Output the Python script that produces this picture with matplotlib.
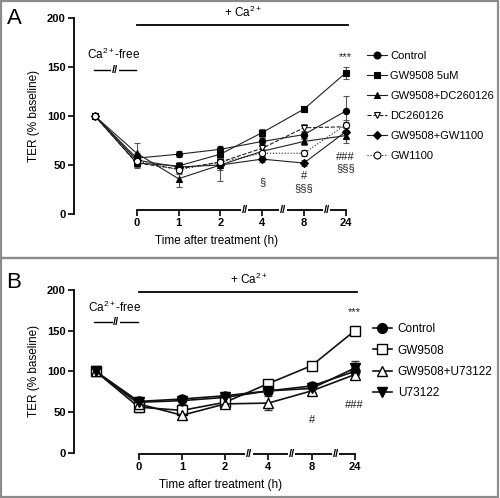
import numpy as np
import matplotlib
matplotlib.use('Agg')
import matplotlib.pyplot as plt
from matplotlib.patches import Rectangle
from matplotlib.lines import Line2D

plt.rcParams['font.family'] = ['Liberation Sans', 'DejaVu Sans']
plt.rcParams['mathtext.fontset'] = 'custom'
plt.rcParams['mathtext.rm'] = 'Liberation Sans'
plt.rcParams['mathtext.it'] = 'Liberation Sans'

# x categories: baseline, then time points (h)
xpos = [-1, 0, 1, 2, 3, 4, 5]
time_labels = ['0', '1', '2', '4', '8', '24']

# panel A
a_names = ['Control', 'GW9508 5uM', 'GW9508+DC260126', 'DC260126', 'GW9508+GW1100', 'GW1100']
a_vals = [
    [100, 57, 61, 66, 74, 81, 105],
    [100, 52, 49, 61, 83, 107, 144],
    [100, 62, 36, 50, 64, 74, 80],
    [100, 52, 46, 53, 67, 88, 89],
    [100, 55, 48, 50, 56, 52, 84],
    [100, 54, 45, 53, 62, 62, 91],
]
a_err = [
    [2, 5, 3, 3, 4, 4, 15],
    [2, 4, 4, 4, 4, 3, 6],
    [2, 10, 8, 16, 5, 4, 8],
    [2, 5, 4, 4, 4, 4, 5],
    [2, 6, 4, 5, 3, 3, 6],
    [2, 5, 4, 4, 4, 3, 5],
]
a_marker = ['o', 's', '^', 'v', 'D', 'o']
a_fill = ['k', 'k', 'k', 'white', 'k', 'white']
a_ls = ['-', '-', '-', '--', '-', ':']
a_ann = [('***', 5, 160), ('###', 5, 58), ('§§§', 5, 47), ('§', 3, 32), ('#', 4, 39), ('§§§', 4, 26)]

# panel B
b_names = ['Control', 'GW9508', 'GW9508+U73122', 'U73122']
b_vals = [
    [100, 63, 66, 70, 76, 82, 100],
    [100, 56, 52, 62, 85, 107, 150],
    [100, 60, 46, 60, 61, 76, 96],
    [100, 62, 64, 68, 76, 79, 104],
]
b_err = [
    [2, 5, 4, 3, 4, 4, 5],
    [2, 6, 5, 4, 3, 2, 3],
    [2, 5, 5, 4, 9, 5, 4],
    [2, 5, 4, 4, 4, 4, 9],
]
b_marker = ['o', 's', '^', 'v']
b_fill = ['k', 'white', 'white', 'k']
b_ann = [('***', 5, 173), ('###', 5, 59), ('#', 4, 40)]

W, H = 500, 498
fig = plt.figure(figsize=(W / 100, H / 100), dpi=100)


def px(l, b, r, t):
    # pixel box (top-left origin) -> figure fraction rect
    return [l / W, 1 - b / H, (r - l) / W, (b - t) / H]


def setup(ax, spine_y, breaks, free_y, bar_y, ca_y, lw):
    ax.set_ylim(0, 200)
    ax.set_xlim(-1.5, 5.3)
    for s in ['top', 'right']:
        ax.spines[s].set_visible(False)
    ax.spines['left'].set_linewidth(1.3)
    ax.spines['bottom'].set_linewidth(1.3)
    ax.spines['left'].set_bounds(0, 200)
    ax.spines['bottom'].set_position(('data', spine_y))
    ax.spines['bottom'].set_bounds(0, 5)
    ax.set_yticks([0, 50, 100, 150, 200])
    ax.set_xticks(range(6))
    ax.set_xticklabels(time_labels)
    ax.tick_params(length=4, width=1.2, labelsize=8, pad=2)
    for lab in ax.get_xticklabels() + ax.get_yticklabels():
        lab.set_fontweight('bold')
    ax.set_ylabel('TER (% baseline)', fontsize=8.5, labelpad=5)
    ax.set_xlabel('Time after treatment (h)', fontsize=8.5, labelpad=5)
    for b in breaks:
        ax.text(b, spine_y, '//', ha='center', va='center', fontsize=8, fontweight='bold',
                bbox=dict(fc='white', ec='none', pad=0.3), clip_on=False, zorder=5)
    # Ca2+-free marker
    ax.plot([-1.03, -0.02], [free_y, free_y], color='k', lw=lw, clip_on=False)
    ax.text(-0.52, free_y, '//', ha='center', va='center', fontsize=8, fontweight='bold',
            bbox=dict(fc='white', ec='none', pad=0.3), clip_on=False)
    ax.text(-0.55, free_y + 8, 'Ca$^{2+}$-free', ha='center', va='bottom', fontsize=8.5, clip_on=False)
    # + Ca2+ bar
    ax.plot([0, 5.05], [bar_y, bar_y], color='k', lw=1.3, clip_on=False)
    ax.text(2.55, ca_y, '+ Ca$^{2+}$', ha='center', va='center', fontsize=8.5, clip_on=False)


# ---------- panel A ----------
axA = fig.add_axes(px(74, 214, 74 + 6.8 * 41.8, 18))
handlesA = []
for i in range(len(a_names)):
    ms = 4.5 if a_marker[i] != 'D' else 3.8
    axA.errorbar(xpos, a_vals[i], yerr=a_err[i], color='#222222', lw=0.8, ls=a_ls[i],
                 marker=a_marker[i], ms=ms, mfc=a_fill[i], mec='k', mew=0.8,
                 ecolor='#555555', elinewidth=0.8, capsize=2.5, capthick=0.8, clip_on=False)
    handlesA.append(Line2D([], [], color='#222222', lw=0.8, ls=a_ls[i], marker=a_marker[i],
                           ms=ms + 0.5, mfc=a_fill[i], mec='k', mew=0.8, label=a_names[i]))
for t, x, y in a_ann:
    axA.text(x, y, t, ha='center', va='center', fontsize=8, color='#222222')
setup(axA, 4, [2.58, 3.5, 4.55], 147, 193, 206, 1.0)
axA.legend(handles=handlesA, loc='upper left', bbox_to_anchor=(367 / W, 1 - 51 / H),
           bbox_transform=fig.transFigure, frameon=False, fontsize=8, handlelength=1.8,
           handletextpad=0.3, labelspacing=0.9, borderpad=0, borderaxespad=0)
fig.text(7 / W, 1 - 19 / H, 'A', fontsize=16, va='center', ha='left')

# ---------- panel B ----------
axB = fig.add_axes(px(74, 452.7, 74 + 6.8 * 43.2, 290))
handlesB = []
for i in range(len(b_names)):
    axB.errorbar(xpos, b_vals[i], yerr=b_err[i], color='#111111', lw=1.2, ls='-',
                 marker=b_marker[i], ms=6.5, mfc=b_fill[i], mec='k', mew=1.0,
                 ecolor='#333333', elinewidth=1.0, capsize=3, capthick=1.0, clip_on=False)
    handlesB.append(Line2D([], [], color='#111111', lw=1.2, marker=b_marker[i], ms=7,
                           mfc=b_fill[i], mec='k', mew=1.0, label=b_names[i]))
for t, x, y in b_ann:
    axB.text(x, y, t, ha='center', va='center', fontsize=8, color='#222222')
setup(axB, -1, [2.55, 3.54, 4.56], 161, 197, 213, 1.0)
axB.legend(handles=handlesB, loc='upper left', bbox_to_anchor=(373 / W, 1 - 323.5 / H),
           bbox_transform=fig.transFigure, frameon=False, fontsize=8.5, handlelength=1.6,
           handletextpad=0.5, labelspacing=0.77, borderpad=0, borderaxespad=0)
fig.text(6 / W, 1 - 282 / H, 'B', fontsize=16, va='center', ha='left')

# panel frames
fig.add_artist(Rectangle((1 / W, 1 - 258 / H), 497 / W, 257 / H, transform=fig.transFigure,
                         fill=False, ec='#8c8c8c', lw=1.6))
fig.add_artist(Rectangle((1 / W, 1 / H), 497 / W, 257 / H - 18 / H, transform=fig.transFigure,
                         fill=False, ec='#8c8c8c', lw=1.6))

fig.savefig('out.png', dpi=100)
